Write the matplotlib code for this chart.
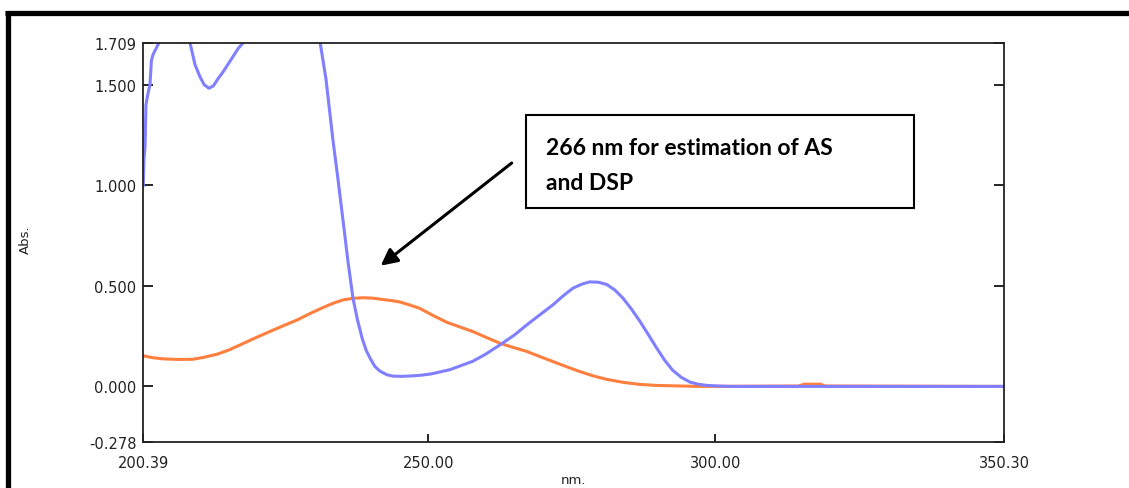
import matplotlib
matplotlib.use("Agg")
import matplotlib.pyplot as plt
from matplotlib.lines import Line2D
from matplotlib.patches import Rectangle

# spectrum data (nm, Abs.)
blue_nm = [200.39, 200.5, 200.69, 200.85, 201.03, 201.3, 201.55, 201.8, 202.08, 202.6,
           203.3, 205.5, 207.5, 208.52, 209.4, 210.26, 211.0, 211.83, 212.6, 213.4,
           214.3, 215.1, 216.0, 216.9, 218.1, 221.0, 225.0, 229.0, 231.2, 232.2,
           233.4, 234.3, 235.2, 236.0, 236.9, 237.7, 238.5, 239.2, 239.9, 240.7,
           241.6, 242.81, 243.9, 245.5, 247.0, 248.55, 250.5, 253.78, 257.78, 260.0,
           262.48, 265.0, 267.18, 269.5, 271.71, 273.5, 275.19, 276.7, 278.15, 279.7,
           281.11, 282.5, 283.9, 285.4, 286.86, 288.3, 289.82, 291.2, 292.6, 294.1,
           295.56, 297.0, 298.52, 300.5, 302.5, 350.3]
blue_abs = [1.00, 1.13, 1.19, 1.40, 1.43, 1.47, 1.50, 1.62, 1.65, 1.68,
            1.72, 1.78, 1.80, 1.709, 1.60, 1.54, 1.50, 1.483, 1.495, 1.53,
            1.565, 1.60, 1.64, 1.68, 1.72, 1.85, 1.95, 1.85, 1.709, 1.53,
            1.23, 1.03, 0.82, 0.63, 0.44, 0.33, 0.24, 0.18, 0.14, 0.10,
            0.076, 0.058, 0.051, 0.050, 0.052, 0.055, 0.062, 0.083, 0.125, 0.16,
            0.206, 0.255, 0.306, 0.357, 0.405, 0.45, 0.488, 0.508, 0.52, 0.518,
            0.507, 0.48, 0.44, 0.385, 0.325, 0.26, 0.19, 0.13, 0.08, 0.045,
            0.022, 0.011, 0.005, 0.002, 0.0, 0.0]

orange_nm = [200.39, 202.0, 203.82, 206.5, 209.04, 211.0, 213.22, 215.2, 217.22, 219.8,
             222.44, 224.8, 227.14, 229.4, 231.67, 233.4, 235.15, 236.9, 238.63, 240.4,
             242.11, 243.6, 245.07, 246.8, 248.55, 250.9, 253.25, 255.5, 257.78, 260.1,
             262.48, 264.8, 267.18, 269.4, 271.71, 274.0, 276.4, 278.8, 281.11, 284.0,
             286.85, 289.7, 292.6, 297.3, 314.5, 315.5, 318.3, 319.2, 350.3]
orange_abs = [0.152, 0.143, 0.137, 0.134, 0.135, 0.145, 0.16, 0.18, 0.206, 0.24,
              0.273, 0.302, 0.33, 0.362, 0.392, 0.413, 0.43, 0.438, 0.441, 0.439,
              0.432, 0.427, 0.42, 0.405, 0.388, 0.352, 0.319, 0.296, 0.273, 0.244,
              0.215, 0.194, 0.174, 0.149, 0.124, 0.099, 0.074, 0.052, 0.035, 0.02,
              0.010, 0.005, 0.003, 0.0, 0.002, 0.011, 0.011, 0.002, 0.0]

yticks = [-0.278, 0.0, 0.5, 1.0, 1.5, 1.709]
ytick_labels = ["-0.278", "0.000", "0.500", "1.000", "1.500", "1.709"]
xticks = [200.39, 250.0, 300.0, 350.30]
xtick_labels = ["200.39", "250.00", "300.00", "350.30"]

plt.rcParams["font.family"] = ["DejaVu Sans"]

W, H = 1129, 489
fig = plt.figure(figsize=(W / 100, H / 100), dpi=100)
ax = fig.add_axes([143.3 / W, 1 - 443.3 / H, 860.7 / W, 399.5 / H])

ax.plot(orange_nm, orange_abs, color="#ff7f3f", lw=2.2)
ax.plot(blue_nm, blue_abs, color="#7f7fff", lw=2.2)

ax.set_xlim(200.39, 350.30)
ax.set_ylim(-0.278, 1.709)
ax.set_xticks(xticks)
ax.set_xticklabels(xtick_labels)
ax.set_yticks(yticks)
ax.set_yticklabels(ytick_labels)

txt = "#222222"
ax.tick_params(axis="y", direction="in", right=True, length=7, width=1.2,
               pad=5, labelsize=10.5, labelcolor=txt)
ax.tick_params(axis="x", direction="in", length=6, width=1.2,
               pad=9, labelsize=10.5, labelcolor=txt)
for s in ax.spines.values():
    s.set_linewidth(1.3)
    s.set_color("#222222")

fig.text(573.5 / W, 1 - 481 / H, "nm.", ha="center", va="center", fontsize=9.5, color=txt)
fig.text(25 / W, 1 - 240 / H, "Abs.", ha="center", va="center", rotation=90,
         fontsize=9.5, color=txt)

# annotation box
box = Rectangle((526 / W, 1 - 208.5 / H), (914 - 526) / W, (208.5 - 116) / H,
                transform=fig.transFigure, fill=False, lw=1.5, ec="black")
fig.patches.append(box)
fig.text(546 / W, 1 - 155 / H, "266 nm for estimation of AS", ha="left", va="baseline",
         fontsize=16.5, fontweight="bold", family="Lato", color="black")
fig.text(546 / W, 1 - 190 / H, "and DSP", ha="left", va="baseline",
         fontsize=16.5, fontweight="bold", family="Lato", color="black")

ax.annotate("", xy=(380.7 / W, 1 - 266.7 / H), xytext=(511.7 / W, 1 - 164 / H),
            xycoords="figure fraction", textcoords="figure fraction",
            arrowprops=dict(arrowstyle="-|>", color="black", lw=2.2,
                            mutation_scale=25, shrinkA=0, shrinkB=0))

# outer frame lines
fig.add_artist(Line2D([5 / W, 1], [1 - 14 / H, 1 - 14 / H], transform=fig.transFigure,
                      color="black", lw=3.8, solid_capstyle="butt"))
fig.add_artist(Line2D([7.5 / W, 7.5 / W], [0, 1 - 11.5 / H], transform=fig.transFigure,
                      color="black", lw=3.8, solid_capstyle="butt"))

fig.savefig("out.png", dpi=100)
